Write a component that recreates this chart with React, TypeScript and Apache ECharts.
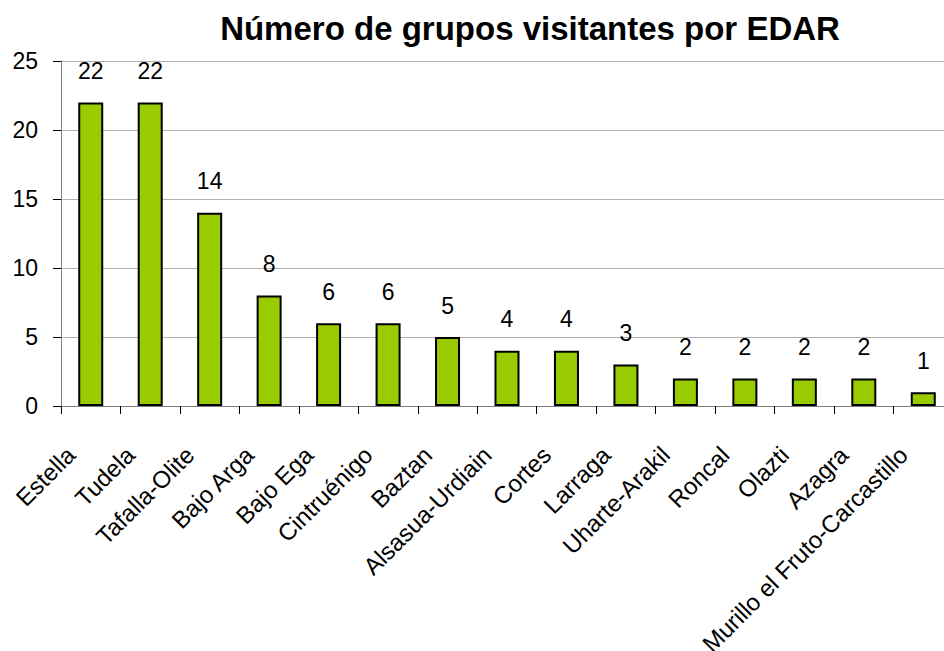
import React, { useEffect, useRef } from "react";
import * as echarts from "echarts";

const categories = [
  "Estella", "Tudela", "Tafalla-Olite", "Bajo Arga", "Bajo Ega", "Cintruénigo",
  "Baztan", "Alsasua-Urdiain", "Cortes", "Larraga", "Uharte-Arakil", "Roncal",
  "Olazti", "Azagra", "Murillo el Fruto-Carcastillo",
];
const values = [22, 22, 14, 8, 6, 6, 5, 4, 4, 3, 2, 2, 2, 2, 1];
const titleText = "Número de grupos visitantes por EDAR";

export default function App() {
  const ref = useRef<HTMLDivElement>(null);
  useEffect(() => {
    const chart = echarts.init(ref.current!, null, { renderer: "svg" });
    const font = "'Liberation Sans', Arial, sans-serif";
    chart.setOption({
      animation: false,
      title: {
        text: titleText,
        left: 525,
        textAlign: "center",
        top: 7,
        textStyle: { fontFamily: font, fontSize: 33, fontWeight: "bold", color: "#000" },
      },
      grid: {
        left: 61,
        width: 892,
        top: 61,
        height: 345,
        containLabel: false,
        outerBoundsMode: "none",
      },
      xAxis: {
        type: "category",
        data: categories,
        axisLine: { lineStyle: { color: "#808080", width: 1 } },
        axisTick: { show: true, length: 8, lineStyle: { color: "#000" }, alignWithLabel: false },
        axisLabel: {
          rotate: 45,
          interval: 0,
          fontFamily: font,
          fontSize: 24,
          color: "#000",
          margin: 25,
          padding: [0, 28, 0, 0],
        },
      },
      yAxis: {
        type: "value",
        min: 0,
        max: 25,
        interval: 5,
        axisLine: { show: true, lineStyle: { color: "#808080", width: 1 } },
        axisTick: { show: true, length: 8, lineStyle: { color: "#000" } },
        axisLabel: { fontFamily: font, fontSize: 23, color: "#000", margin: 23 },
        splitLine: { show: true, lineStyle: { color: "#b0b0b0", width: 1 } },
      },
      series: [
        {
          type: "bar",
          data: values,
          barWidth: 25,
          itemStyle: { color: "#99CC00", borderColor: "#000", borderWidth: 2 },
          label: {
            show: true,
            position: "top",
            distance: 20,
            fontFamily: font,
            fontSize: 23,
            color: "#000",
          },
        },
      ],
    });
    return () => chart.dispose();
  }, []);
  return <div ref={ref} style={{ width: 944, height: 651, position: "absolute", left: 0, top: 0 }} />;
}
